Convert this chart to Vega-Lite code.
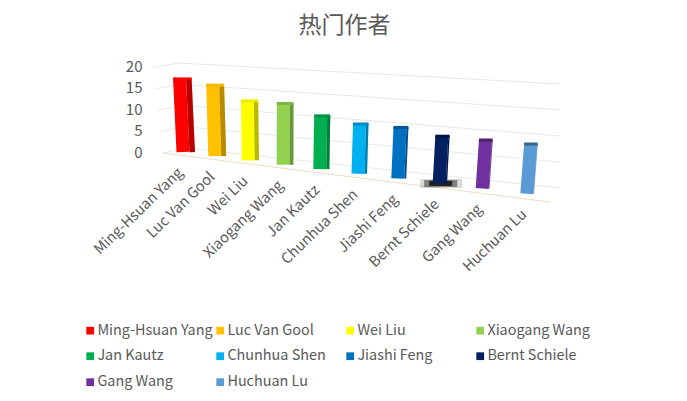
{
"$schema":"https://vega.github.io/schema/vega-lite/v6.json",
"width":687,"height":401,"padding":0,"autosize":{"type":"none"},
"background":"white",
"view":{"stroke":null},
"title":{"text":"热门作者","font":"Noto Sans CJK SC","fontSize":23,"fontWeight":"normal","color":"#595959","anchor":"middle","dy":42,"dx":1},
"datasets":{
"bars":[
{"name":"Ming-Hsuan Yang","value":17,"i":0},{"name":"Luc Van Gool","value":16,"i":1},{"name":"Wei Liu","value":13,"i":2},{"name":"Xiaogang Wang","value":13,"i":3},{"name":"Jan Kautz","value":11,"i":4},{"name":"Chunhua Shen","value":10,"i":5},{"name":"Jiashi Feng","value":10,"i":6},{"name":"Bernt Schiele","value":9,"i":7},{"name":"Gang Wang","value":9,"i":8},{"name":"Huchuan Lu","value":9,"i":9}],
"grid":[{"level":0},{"level":5},{"level":10},{"level":15},{"level":20}]
},
"data":{"name":"bars"},
"transform":[
{"calculate":"183+31*datum.i+0.8*datum.i*datum.i","as":"xb"},
{"calculate":"-(4*datum.i+0.07*datum.i*datum.i)/4.3","as":"yb"},
{"calculate":"datum.xb+datum.value*(-0.2+0.07*datum.i)","as":"xt"},
{"calculate":"datum.yb+datum.value*(4.3+0.135*datum.i)/4.3","as":"yt"},
{"calculate":"max(5.5-0.6*datum.i,0.5)","as":"side"},
{"calculate":"datum.xb+6.5+datum.side/2","as":"sb"},
{"calculate":"datum.xt+6.5+datum.side/2","as":"st"},
{"calculate":"datum.xt-6.5","as":"cl"},
{"calculate":"datum.xt+6.5+datum.side","as":"cr"},
{"calculate":"0.04*datum.i","as":"capo"},
{"calculate":"datum.xb-2","as":"lx"},
{"calculate":"datum.yb-19/4.3","as":"ly"},
{"calculate":"datum.xb-19","as":"s1"},
{"calculate":"datum.xb+23","as":"s2"},
{"calculate":"datum.xb-15","as":"s3"},
{"calculate":"datum.xb+18","as":"s4"},
{"calculate":"datum.xb-10","as":"s5"},
{"calculate":"datum.xb+13","as":"s6"}
],
"encoding":{
"color":{"field":"name","type":"nominal","sort":null,
"scale":{"domain":["Ming-Hsuan Yang","Luc Van Gool","Wei Liu","Xiaogang Wang","Jan Kautz","Chunhua Shen","Jiashi Feng","Bernt Schiele","Gang Wang","Huchuan Lu"],"range":["#ff0000","#ffc000","#ffff00","#92d050","#00b050","#00b0f0","#0070c0","#002060","#7030a0","#5b9bd5"]},
"legend":null}
},
"layer":[
{"data":{"name":"grid"},
 "transform":[
 {"calculate":"185-datum.level*0.25","as":"x1"},
 {"calculate":"560-datum.level*0","as":"x2"},
 {"calculate":"(4+datum.level*4.25)/4.3","as":"y1"},
 {"calculate":"(-36+datum.level*5.2)/4.3","as":"y2"}],
 "mark":{"type":"rule","strokeWidth":1},
 "encoding":{"color":{"value":"#e8e8e8"},
 "x":{"field":"x1","type":"quantitative","scale":{"domain":[0,687],"nice":false,"zero":false},"axis":null},"x2":{"field":"x2"},
 "y":{"field":"y1","type":"quantitative","scale":{"domain":[-57.9,35.35],"nice":false,"zero":false},
   "axis":{"title":null,"values":[0,5,10,15,20],"orient":"left","offset":-144,"domain":false,"ticks":false,"grid":false,"labelFont":"Noto Sans CJK SC","labelFontSize":15,"labelColor":"#595959","labelPadding":2}},
 "y2":{"field":"y2"}}},
{"data":{"name":"grid"},
 "transform":[
 {"calculate":"163-datum.level*0.5","as":"x1"},
 {"calculate":"185-datum.level*0.25","as":"x2"},
 {"calculate":"datum.level-0.25","as":"y1"},
 {"calculate":"(4+datum.level*4.25)/4.3","as":"y2"}],
 "mark":{"type":"rule","strokeWidth":1},
 "encoding":{"color":{"value":"#e8e8e8"},
 "x":{"field":"x1","type":"quantitative"},"x2":{"field":"x2"},
 "y":{"field":"y1","type":"quantitative"},"y2":{"field":"y2"}}},
{"data":{"name":"grid"},
 "transform":[{"filter":"datum.level==0"},
 {"calculate":"163","as":"x1"},{"calculate":"550","as":"x2"},
 {"calculate":"-0.25","as":"y1"},{"calculate":"-50/4.3","as":"y2"}],
 "mark":{"type":"rule","strokeWidth":1},
 "encoding":{"color":{"value":"#ecdcc8"},
 "x":{"field":"x1","type":"quantitative"},"x2":{"field":"x2"},
 "y":{"field":"y1","type":"quantitative"},"y2":{"field":"y2"}}},
{"transform":[{"filter":"datum.name=='Bernt Schiele'"}],
 "mark":{"type":"rule","strokeWidth":9,"opacity":0.15},
 "encoding":{"color":{"value":"#000000"},"x":{"field":"s1","type":"quantitative"},"x2":{"field":"s2"},"y":{"field":"yb","type":"quantitative"}}},
{"transform":[{"filter":"datum.name=='Bernt Schiele'"}],
 "mark":{"type":"rule","strokeWidth":7,"opacity":0.4},
 "encoding":{"color":{"value":"#000000"},"x":{"field":"s3","type":"quantitative"},"x2":{"field":"s4"},"y":{"field":"yb","type":"quantitative"}}},
{"transform":[{"filter":"datum.name=='Bernt Schiele'"}],
 "mark":{"type":"rule","strokeWidth":5,"opacity":0.75},
 "encoding":{"color":{"value":"#000000"},"x":{"field":"s5","type":"quantitative"},"x2":{"field":"s6"},"y":{"field":"yb","type":"quantitative"}}},
{"mark":{"type":"rule","strokeWidth":13},
 "encoding":{
 "x":{"field":"xb","type":"quantitative"},"x2":{"field":"xt"},
 "y":{"field":"yb","type":"quantitative"},"y2":{"field":"yt"},
 "color":{"field":"name","type":"nominal","sort":null,"legend":{"title":null,"orient":"none","direction":"horizontal","legendX":83,"legendY":323,"columns":4,"gridAlign":"all","symbolType":"square","symbolSize":14,"symbolStrokeWidth":4,"labelFont":"Noto Sans CJK SC","labelFontSize":14.4,"labelColor":"#595959","rowPadding":5,"columnPadding":-3,"labelOffset":0,"labelLimit":200,"padding":0}}}},
{"mark":{"type":"rule"},
 "encoding":{
 "x":{"field":"sb","type":"quantitative"},"x2":{"field":"st"},
 "y":{"field":"yb","type":"quantitative"},"y2":{"field":"yt"},
 "size":{"field":"side","type":"quantitative","scale":null,"legend":null}}},
{"mark":{"type":"rule","opacity":0.28},
 "encoding":{
 "color":{"value":"#000000"},
 "x":{"field":"sb","type":"quantitative"},"x2":{"field":"st"},
 "y":{"field":"yb","type":"quantitative"},"y2":{"field":"yt"},
 "size":{"field":"side","type":"quantitative","scale":null,"legend":null}}},
{"mark":{"type":"rule","strokeWidth":3},
 "encoding":{
 "x":{"field":"cl","type":"quantitative"},"x2":{"field":"cr"},
 "y":{"field":"yt","type":"quantitative"}}},
{"mark":{"type":"rule","strokeWidth":3},
 "encoding":{
 "color":{"value":"#000000"},
 "opacity":{"field":"capo","type":"quantitative","scale":null,"legend":null},
 "x":{"field":"cl","type":"quantitative"},"x2":{"field":"cr"},
 "y":{"field":"yt","type":"quantitative"}}},
{"mark":{"type":"text","angle":316,"align":"right","baseline":"middle","font":"Noto Sans CJK SC","fontSize":14.6},
 "encoding":{
 "color":{"value":"#595959"},
 "text":{"field":"name","type":"nominal"},
 "x":{"field":"lx","type":"quantitative"},
 "y":{"field":"ly","type":"quantitative"}}}
]
}
